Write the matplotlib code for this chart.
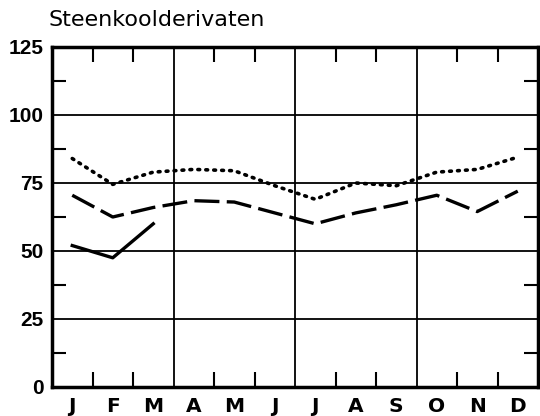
import matplotlib
matplotlib.use("Agg")
import matplotlib.pyplot as plt
from matplotlib.ticker import FixedLocator

months = ["J", "F", "M", "A", "M", "J", "J", "A", "S", "O", "N", "D"]
dotted = [84, 74.5, 79, 80, 79.5, 74, 69, 75, 74, 79, 80, 84.5]
dashed = [70.5, 62.5, 66, 68.5, 68, 64, 60, 64, 67, 70.5, 64.5, 72]
solid = [52, 47.5, 60]
y_labels = [0, 25, 50, 75, 100, 125]

fig = plt.figure(figsize=(5.4, 4.16), dpi=100)
ax = fig.add_axes([52/540, 1-387/416, 486/540, 340/416])

xc = [i + 0.5 for i in range(12)]
lw = 2.4
ax.plot(xc, dotted, color="black", lw=2.6, linestyle=(0, (0.5, 1.7)),
        dash_capstyle="round", zorder=3)
ax.plot(xc, dashed, color="black", lw=lw, linestyle=(0, (7.5, 2.2)), zorder=3)
ax.plot(xc[:3], solid, color="black", lw=lw, zorder=3)

ax.set_xlim(0, 12)
ax.set_ylim(0, 125)

for x in [3, 6, 9]:
    ax.axvline(x, color="black", lw=1.3, zorder=2)
for y in [25, 50, 75, 100]:
    ax.axhline(y, color="black", lw=1.3, zorder=2)

ax.set_xticks(xc)
ax.set_xticklabels(months, fontsize=14.5, fontfamily="DejaVu Sans",
                   fontweight="bold")
ax.tick_params(axis="x", which="major", length=0, pad=7)
ax.xaxis.set_minor_locator(FixedLocator([1, 2, 4, 5, 7, 8, 10, 11]))
ax.tick_params(axis="x", which="minor", direction="in", length=11, width=1.5,
               top=True, bottom=True)

ax.set_yticks(y_labels)
ax.set_yticklabels([str(v) for v in y_labels], fontsize=15,
                   fontfamily="Liberation Sans", fontweight="bold")
ax.tick_params(axis="y", which="major", length=0, pad=6)
ax.yaxis.set_minor_locator(FixedLocator([12.5, 37.5, 62.5, 87.5, 112.5]))
ax.tick_params(axis="y", which="minor", direction="in", length=10, width=1.5,
               left=True, right=True)

for s in ax.spines.values():
    s.set_linewidth(2.5)

fig.text(48/540, 1-20/416, "Steenkoolderivaten", fontsize=16,
         fontfamily="DejaVu Sans", ha="left", va="center")

fig.savefig("out.png", dpi=100)
